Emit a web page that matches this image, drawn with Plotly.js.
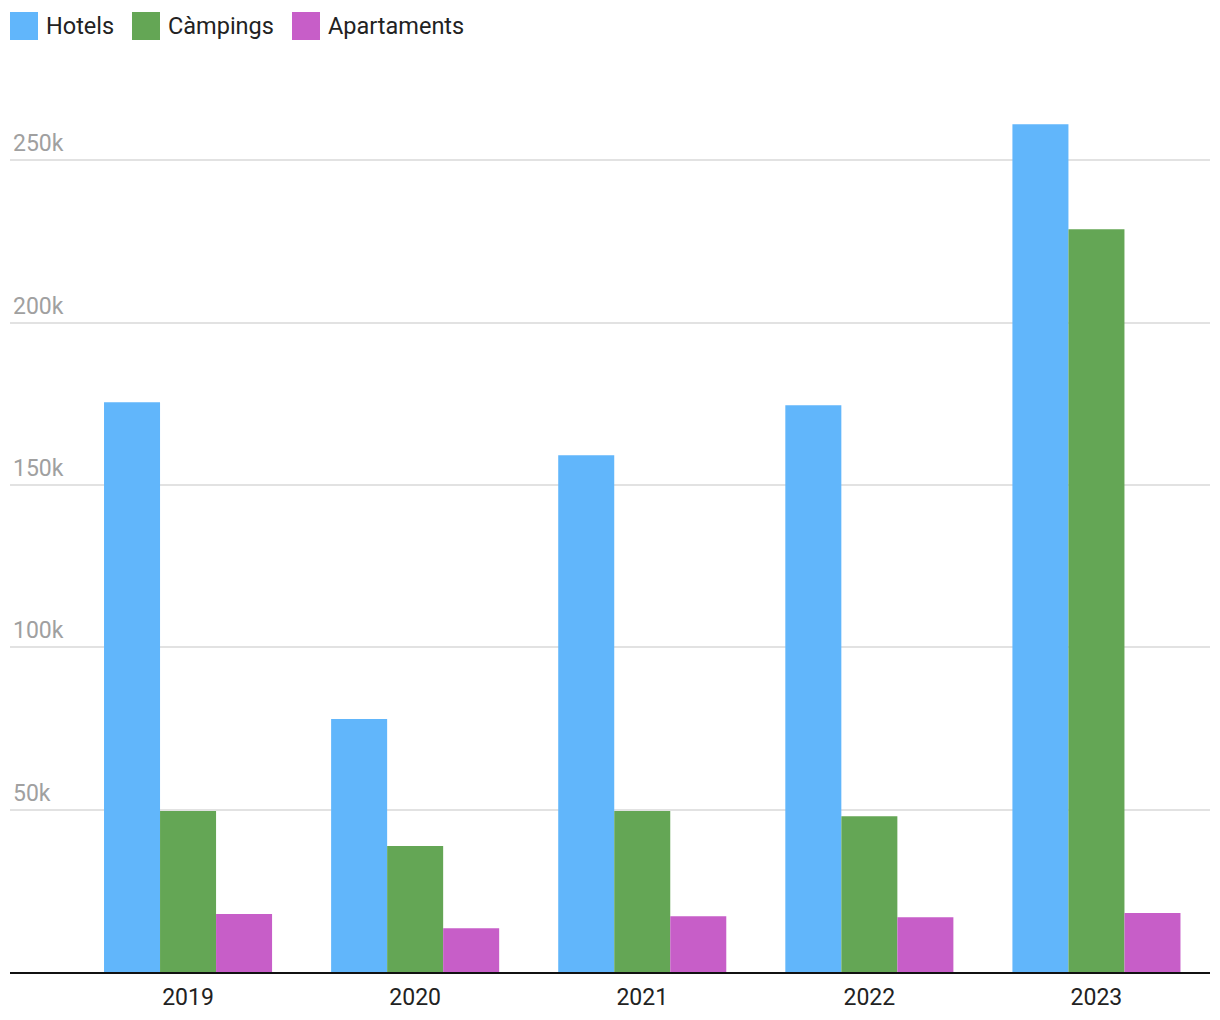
<!DOCTYPE html>
<html>
<head>
<meta charset="utf-8">
<script src="https://cdn.plot.ly/plotly-3.0.1.min.js"></script>
<style>
  html, body { margin: 0; padding: 0; background: #fff; }
  #chart { width: 1220px; height: 1020px; }
</style>
</head>
<body>
<div id="chart"></div>
<script>
// dades llegides del gràfic
const years = ['2019', '2020', '2021', '2022', '2023'];
const hotels = [175500, 77900, 159200, 174600, 261100];
const campings = [49600, 38800, 49600, 48000, 228800];
const apartaments = [17900, 13500, 17200, 16900, 18200];

const seriesNames = ['Hotels', 'Càmpings', 'Apartaments'];
const colors = ['#61b6fb', '#64a655', '#c75ec8'];

const yTicks = [50000, 100000, 150000, 200000, 250000];
const yTickText = ['50k', '100k', '150k', '200k', '250k'];

const data = [hotels, campings, apartaments].map((vals, i) => ({
  x: years, y: vals, name: seriesNames[i], type: 'bar',
  marker: {color: colors[i]},
  showlegend: false,
  hoverinfo: 'x+y+name'
}));

// llegenda feta a mà (quadrats grans com a l'original)
const W = 1200, H = 909, BOTTOM = 972;   // àrea del gràfic en px
const legX = [0, 122, 282];                // inici de cada element, px des de l'esquerra
const shapes = [], annotations = [];
seriesNames.forEach((n, i) => {
  shapes.push({
    type: 'rect', xref: 'paper', yref: 'paper',
    x0: legX[i] / W, x1: (legX[i] + 28) / W,
    y0: (BOTTOM - 40) / H, y1: (BOTTOM - 12) / H,
    fillcolor: colors[i], line: {width: 0}
  });
  annotations.push({
    xref: 'paper', yref: 'paper', x: (legX[i] + 34) / W, y: (BOTTOM - 26) / H,
    xanchor: 'left', yanchor: 'middle', showarrow: false,
    text: n, font: {size: 23.5, color: '#222'}
  });
});

const layout = {
  width: 1220, height: 1020,
  margin: {t: 63, r: 10, l: 10, b: 48},
  paper_bgcolor: '#fff',
  plot_bgcolor: '#fff',
  font: {family: 'Roboto, sans-serif', size: 23, color: '#222'},
  barmode: 'group',
  bargap: 0.26,
  bargroupgap: 0,
  showlegend: false,
  shapes: shapes,
  annotations: annotations,
  xaxis: {
    type: 'category',
    range: [-0.784, 4.5],
    showgrid: false,
    showline: true, linecolor: '#111', linewidth: 2,
    ticks: '', tickfont: {size: 23, color: '#222'},
    ticklabelstandoff: 3,
    fixedrange: true
  },
  yaxis: {
    range: [0, 280000],
    tickvals: yTicks, ticktext: yTickText,
    ticklabelposition: 'inside top',
    tickfont: {size: 23, color: '#a0a0a0'},
    ticklabelshift: -1,
    gridcolor: '#e2e2e2', gridwidth: 2,
    zeroline: false, showline: false,
    fixedrange: true
  }
};

Plotly.newPlot('chart', data, layout, {displayModeBar: false, responsive: false});
</script>
</body>
</html>
